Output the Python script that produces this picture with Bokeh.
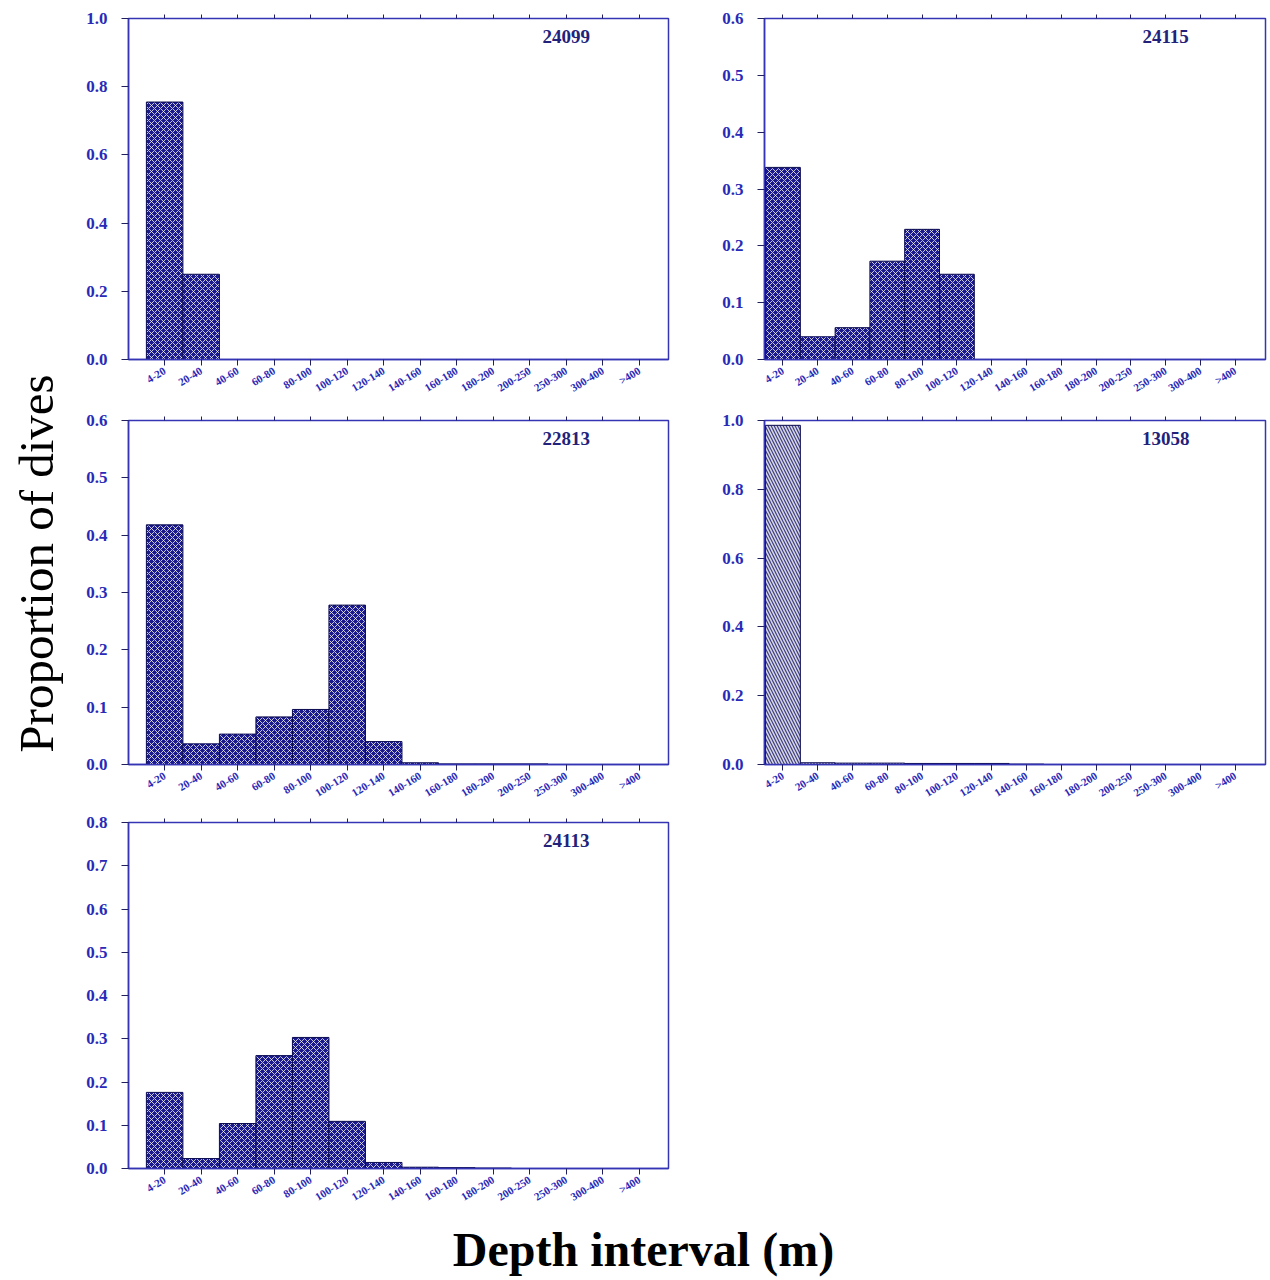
import numpy as np
from bokeh.plotting import figure
from bokeh.layouts import row, column
from bokeh.models import (Range1d, FixedTicker, LinearAxis, PrintfTickFormatter,
                          Label, Spacer)
from bokeh.embed import file_html
from bokeh.resources import INLINE

# ---------------- data ----------------
intervals = ["4-20", "20-40", "40-60", "60-80", "80-100", "100-120", "120-140",
             "140-160", "160-180", "180-200", "200-250", "250-300", "300-400", ">400"]
p24099 = [0.755, 0.250, 0, 0, 0, 0, 0, 0, 0, 0, 0, 0, 0, 0]
p24115 = [0.338, 0.040, 0.056, 0.173, 0.229, 0.150, 0, 0, 0, 0, 0, 0, 0, 0]
p22813 = [0.418, 0.036, 0.053, 0.083, 0.096, 0.278, 0.040, 0.003, 0.001, 0.001, 0.001, 0, 0, 0]
p13058 = [0.986, 0.005, 0.004, 0.004, 0.003, 0.003, 0.003, 0.001, 0, 0, 0, 0, 0, 0]
p24113 = [0.176, 0.023, 0.104, 0.261, 0.303, 0.109, 0.014, 0.003, 0.002, 0.001, 0, 0, 0, 0]
titles = ["24099", "24115", "22813", "13058", "24113"]
y_max = [1.0, 0.6, 0.6, 1.0, 0.8]
y_step = [0.2, 0.1, 0.1, 0.2, 0.1]

AXIS = "#3434b4"
LABEL = "#2a2ab8"
NAVY = "#1a1a8e"
SERIF = "Liberation Serif"


def make_panel(vals, title, ymax, ystep, xr, borders, plot_w, plot_h, style):
    bl, br, bt, bb = borders
    p = figure(width=bl + plot_w + br, height=bt + plot_h + bb,
               x_range=Range1d(*xr), y_range=Range1d(0, ymax),
               output_backend="svg", toolbar_location=None,
               min_border_left=bl, min_border_right=br,
               min_border_top=bt, min_border_bottom=bb)
    p.background_fill_color = "white"
    p.border_fill_color = "white"
    p.grid.visible = False
    p.outline_line_color = AXIS
    p.outline_line_width = 1.5

    n = len(vals)
    centers = [i + 0.5 for i in range(n)]
    if style == "dense":
        p.vbar(x=centers, width=1.0, top=vals, bottom=0,
               fill_color=NAVY, line_color="#0a0a50", line_width=1,
               hatch_pattern="diagonal_cross", hatch_color="white",
               hatch_alpha=0.75, hatch_scale=6, hatch_weight=1)
    else:
        p.vbar(x=centers, width=1.0, top=vals, bottom=0,
               fill_color="#404084", line_color="#0a0a50", line_width=1,
               hatch_pattern="left_diagonal_line", hatch_color="white",
               hatch_alpha=0.8, hatch_scale=6, hatch_weight=1.5)

    # x axis (bottom)
    xa = p.xaxis[0]
    xa.ticker = FixedTicker(ticks=centers)
    xa.major_label_overrides = {c: lab for c, lab in zip(centers, intervals)}
    xa.major_label_orientation = 0.55
    xa.major_label_text_font = SERIF
    xa.major_label_text_font_style = "bold"
    xa.major_label_text_font_size = "11px"
    xa.major_label_text_color = LABEL
    xa.major_label_standoff = 4
    xa.axis_line_color = AXIS
    xa.axis_line_width = 1.5
    xa.major_tick_line_color = "#202060"
    xa.major_tick_out = 6
    xa.major_tick_in = 0
    xa.minor_tick_line_color = None

    # top ticks (no labels)
    ta = LinearAxis(ticker=FixedTicker(ticks=centers))
    ta.major_label_text_color = None
    ta.major_label_text_font_size = "6px"
    ta.major_label_standoff = 0
    ta.axis_line_color = AXIS
    ta.major_tick_line_color = "#202060"
    ta.major_tick_out = 4
    ta.major_tick_in = 0
    ta.minor_tick_line_color = None
    p.add_layout(ta, "above")

    # y axis
    ya = p.yaxis[0]
    nt = int(round(ymax / ystep))
    ya.ticker = FixedTicker(ticks=[round(k * ystep, 3) for k in range(nt + 1)])
    ya.formatter = PrintfTickFormatter(format="%.1f")
    ya.major_label_text_font = SERIF
    ya.major_label_text_font_style = "bold"
    ya.major_label_text_font_size = "17px"
    ya.major_label_text_color = LABEL
    ya.axis_line_color = AXIS
    ya.axis_line_width = 1.5
    ya.major_tick_line_color = "#202060"
    ya.major_tick_out = 7
    ya.major_tick_in = 0
    ya.minor_tick_line_color = None
    ya.major_label_standoff = 14

    p.add_layout(Label(x=11.5, y=0.948 * ymax, text=title,
                       text_font=SERIF, text_font_style="bold",
                       text_font_size="19px", text_color="#22227a",
                       text_align="center", text_baseline="middle"))
    return p


XR_L = (-0.49, 14.3)
XR_R = (-0.03, 14.37)

f1 = make_panel(p24099, titles[0], y_max[0], y_step[0], XR_L, (58, 32, 18, 46), 540, 341, "dense")
f2 = make_panel(p24115, titles[1], y_max[1], y_step[1], XR_R, (64, 5, 18, 46), 501, 341, "dense")
f3 = make_panel(p22813, titles[2], y_max[2], y_step[2], XR_L, (58, 32, 10, 46), 540, 349, "dense")
f4 = make_panel(p13058, titles[3], y_max[3], y_step[3], XR_R, (64, 5, 15, 36), 501, 354, "hatch")
f5 = make_panel(p24113, titles[4], y_max[4], y_step[4], XR_L, (58, 32, 12, 47), 540, 346, "dense")


def label_fig(w, h, text, x, y, angle, size, style):
    p = figure(width=w, height=h, x_range=Range1d(0, w), y_range=Range1d(0, h),
               output_backend="svg", toolbar_location=None,
               min_border=0, min_border_left=0, min_border_right=0,
               min_border_top=0, min_border_bottom=0)
    p.axis.visible = False
    p.grid.visible = False
    p.outline_line_color = None
    p.border_fill_color = "white"
    p.add_layout(Label(x=x, y=y, text=text, angle=angle,
                       text_font=SERIF, text_font_style=style,
                       text_font_size=size, text_color="black",
                       text_align="center", text_baseline="middle"))
    return p


left = label_fig(70, 1280, "Proportion of dives", 36, 1280 - 563, np.pi / 2, "49px", "normal")
bottom = label_fig(1200, 65, "Depth interval (m)", 573, 31, 0, "48px", "bold")

layout = row(left, column(row(f1, f2), row(f3, f4),
                          row(f5, Spacer(width=570, height=405)), bottom))

open("out.html", "w").write(file_html(layout, INLINE))
